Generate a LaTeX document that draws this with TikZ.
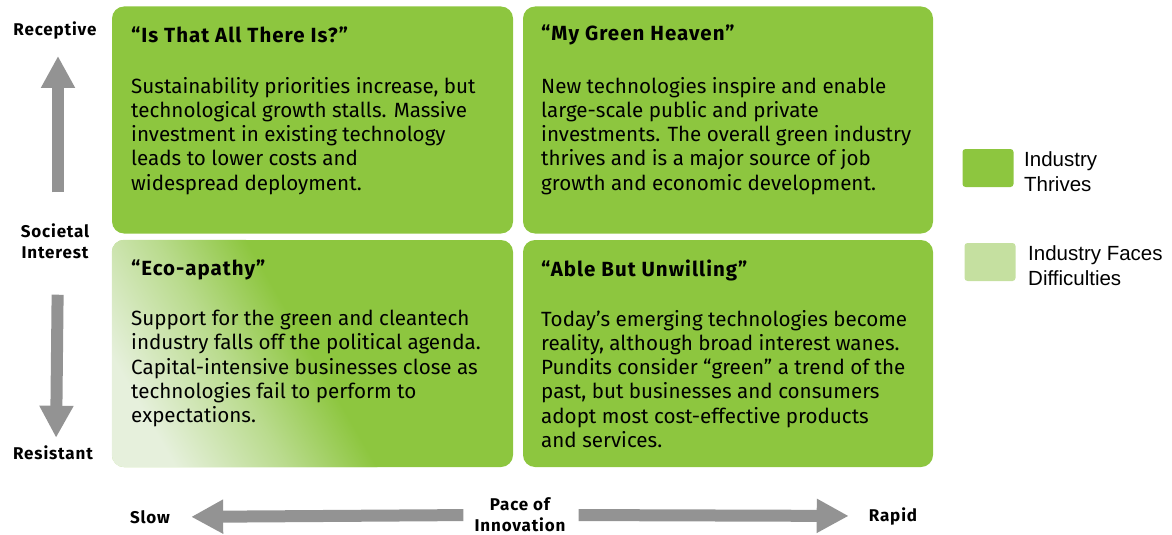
\documentclass[tikz,border=0pt]{standalone}
\usepackage{fontspec}
\setmainfont{Fira Sans}
\newfontfamily\widebf{Fira Sans}[LetterSpace=5]
\newfontfamily\legfont{Liberation Sans}
\usetikzlibrary{arrows.meta,positioning}
\definecolor{thrive}{RGB}{141,198,63}
\definecolor{faces}{RGB}{197,224,160}
\definecolor{pale}{RGB}{230,240,220}
\definecolor{axgray}{RGB}{147,147,147}
% pale-to-green sweep used in the "Eco-apathy" box
\pgfdeclarehorizontalshading{ecofade}{100bp}{color(0bp)=(pale); color(25bp)=(pale);
  color(37bp)=(pale); color(58bp)=(thrive!50!pale); color(75bp)=(thrive); color(100bp)=(thrive)}

\begin{document}
\begin{tikzpicture}[x=1pt,y=-1pt,>=Stealth,
  quad/.style={fill=thrive,rounded corners=12pt,inner sep=0,minimum height=227pt},
  ttl/.style={anchor=west,inner sep=0,font=\widebf\fontsize{20.5}{24}\selectfont\bfseries},
  body/.style={anchor=north west,inner sep=0,align=left,font=\fontsize{20.6}{24.2}\selectfont},
  axlab/.style={align=center,inner sep=0,font=\widebf\fontsize{17}{21}\selectfont\bfseries},
  fat/.style={draw=axgray,line width=12pt,-{Triangle[length=32pt,width=32pt]}},
  key/.style={rounded corners=3pt,inner sep=0,minimum width=51pt,minimum height=38pt},
  keytxt/.style={anchor=north west,align=left,inner sep=0,font=\legfont\fontsize{20.5}{25}\selectfont}]
\useasboundingbox (0,0) rectangle (1172,535);
% ---------- quadrants ----------
\node[quad,minimum width=401pt] (tl) at (312.5,120) {};
\node[quad,minimum width=410pt] (tr) at (728,120) {};
\node[quad,minimum width=401pt] (bl) at (312.5,353.5) {};
\node[quad,minimum width=410pt] (br) at (728,353.5) {};
% pale corner of "Eco-apathy"
\begin{scope}
\clip[rounded corners=12pt] (bl.south west) rectangle (bl.north east);
\begin{scope}[transform canvas={rotate around={30:(bl.south west)}}]
\shade[shading=ecofade] (bl.south west) ++(0,-320) rectangle ++(230,640);
\end{scope}
\end{scope}
% ---------- (top left) ----------
\node[ttl] (tlt) at (131,35) {“Is That All There Is?”};
\node[body] (tlb) at (131,77) {Sustainability priorities increase, but\\
  technological growth stalls. Massive\\
  investment in existing technology\\
  leads to lower costs and\\
  widespread deployment.};
% ---------- (top right) ----------
\node[ttl] (trt) at (541,35) {“My Green Heaven”};
\node[body] (trb) at (541,77) {New technologies inspire and enable\\
  large-scale public and private\\
  investments. The overall green industry\\
  thrives and is a major source of job\\
  growth and economic development.};
% ---------- (bottom left) ----------
\node[ttl] (blt) at (131,270) {“Eco-apathy”};
\node[body] (blb) at (131,310) {Support for the green and cleantech\\
  industry falls off the political agenda.\\
  Capital-intensive businesses close as\\
  technologies fail to perform to\\
  expectations.};
% ---------- (bottom right) ----------
\node[ttl] (brt) at (541,270) {“Able But Unwilling”};
\node[body] (brb) at (541,310) {Today’s emerging technologies become\\
  reality, although broad interest wanes.\\
  Pundits consider “green” a trend of the\\
  past, but businesses and consumers\\
  adopt most cost-effective products\\
  and services.};
% ---------- axes ----------
\node[axlab] (rec) at (55,30) {Receptive};
\node[axlab] (soc) at (55,241) {Societal\\Interest};
\node[axlab] (res) at (53,453) {Resistant};
\draw[fat,shorten <=31pt,shorten >=17pt] ([xshift=3pt]soc.north) -- ([xshift=3pt]rec.south);
\draw[fat,shorten <=36pt,shorten >=8pt] ([xshift=3pt]soc.south) -- ([xshift=3pt]res.north);
\node[axlab] (slow) at (150,517) {Slow};
\node[axlab] (pace) at (520,515) {Pace of\\Innovation};
\node[axlab] (rapid) at (893,516) {Rapid};
\draw[fat,shorten <=11pt,shorten >=21pt] (pace.west) -- (slow.east);
\draw[fat,shorten <=13pt,shorten >=20pt] (pace.east) -- (rapid.west);
% ---------- legend ----------
\node[key,fill=thrive] (k1) at (988,168) {};
\node[keytxt] (k1t) at (1024,151) {Industry\\Thrives};
\node[key,fill=faces] (k2) at (990,262) {};
\node[keytxt] (k2t) at (1028,245) {Industry Faces\\Difficulties};
\end{tikzpicture}
\end{document}
